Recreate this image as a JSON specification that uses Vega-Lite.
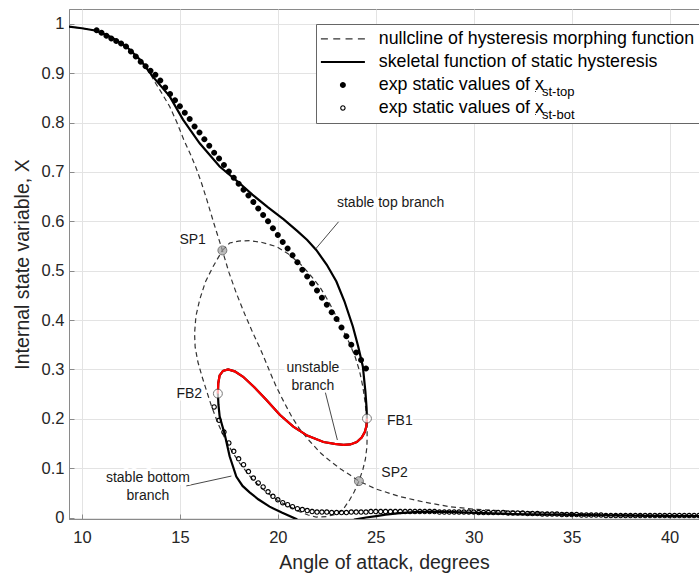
{
  "$schema": "https://vega.github.io/schema/vega-lite/v6.json",
  "width": 630,
  "height": 510,
  "autosize": {"type": "none"},
  "padding": {"left": 69, "top": 9, "right": 0, "bottom": 57},
  "config": {
    "font": "Liberation Sans",
    "view": {"stroke": "#8a8a8a", "strokeWidth": 1},
    "axis": {
      "gridColor": "#e3e3e3", "gridWidth": 1, "domainColor": "#8a8a8a", "tickColor": "#8a8a8a",
      "tickSize": -5, "labelColor": "#262626", "titleColor": "#262626",
      "labelFont": "Liberation Sans", "titleFont": "Liberation Sans",
      "labelFontSize": 16.5, "titleFontSize": 19.5, "titleFontWeight": "normal"
    }
  },
  "datasets": {
    "nullcline": [
      {"b":1,"i":1,"a":9.2,"x":0.995},{"b":1,"i":2,"a":10.0,"x":0.991},{"b":1,"i":3,"a":10.74,"x":0.986},{"b":1,"i":4,"a":11.5,"x":0.973},{"b":1,"i":5,"a":12.27,"x":0.954},{"b":1,"i":6,"a":13.0,"x":0.925},{"b":1,"i":7,"a":13.4,"x":0.905},{"b":1,"i":8,"a":13.71,"x":0.883},{"b":1,"i":9,"a":14.1,"x":0.858},{"b":1,"i":10,"a":14.48,"x":0.8325},{"b":1,"i":11,"a":14.85,"x":0.8},{"b":1,"i":12,"a":15.2,"x":0.765},{"b":1,"i":13,"a":15.55,"x":0.735},{"b":1,"i":14,"a":15.84,"x":0.707},{"b":1,"i":15,"a":16.1,"x":0.678},{"b":1,"i":16,"a":16.35,"x":0.647},{"b":1,"i":17,"a":16.75,"x":0.594},{"b":1,"i":18,"a":17.17,"x":0.541},{"b":1,"i":19,"a":17.5,"x":0.497},{"b":1,"i":20,"a":17.88,"x":0.4545},{"b":1,"i":21,"a":18.3,"x":0.413},{"b":1,"i":22,"a":18.73,"x":0.3735},{"b":1,"i":23,"a":19.1,"x":0.342},{"b":1,"i":24,"a":19.41,"x":0.313},{"b":1,"i":25,"a":19.7,"x":0.285},{"b":1,"i":26,"a":19.92,"x":0.265},{"b":1,"i":27,"a":20.3,"x":0.235},{"b":1,"i":28,"a":20.7,"x":0.205},{"b":1,"i":29,"a":21.1,"x":0.18},{"b":1,"i":30,"a":21.62,"x":0.155},{"b":1,"i":31,"a":22.2,"x":0.13},{"b":1,"i":32,"a":22.81,"x":0.11},{"b":1,"i":33,"a":23.25,"x":0.097},{"b":1,"i":34,"a":23.67,"x":0.0865},{"b":1,"i":35,"a":24.14,"x":0.0737},{"b":1,"i":36,"a":25.0,"x":0.058},{"b":1,"i":37,"a":26.22,"x":0.0425},{"b":1,"i":38,"a":27.5,"x":0.031},{"b":1,"i":39,"a":28.77,"x":0.022},{"b":1,"i":40,"a":30.0,"x":0.017},{"b":1,"i":41,"a":31.32,"x":0.014},{"b":1,"i":42,"a":33.0,"x":0.011},{"b":1,"i":43,"a":35.0,"x":0.008},{"b":1,"i":44,"a":37.0,"x":0.006},{"b":1,"i":45,"a":39.0,"x":0.005},{"b":1,"i":46,"a":41.6,"x":0.004},
      {"b":2,"i":1,"a":17.17,"x":0.541},{"b":2,"i":2,"a":17.54,"x":0.556},{"b":2,"i":3,"a":18.0,"x":0.56},{"b":2,"i":4,"a":18.56,"x":0.561},{"b":2,"i":5,"a":19.2,"x":0.557},{"b":2,"i":6,"a":19.92,"x":0.549},{"b":2,"i":7,"a":20.5,"x":0.535},{"b":2,"i":8,"a":21.11,"x":0.515},{"b":2,"i":9,"a":21.6,"x":0.494},{"b":2,"i":10,"a":22.13,"x":0.468},{"b":2,"i":11,"a":22.6,"x":0.437},{"b":2,"i":12,"a":22.99,"x":0.407},{"b":2,"i":13,"a":23.35,"x":0.378},{"b":2,"i":14,"a":23.67,"x":0.352},{"b":2,"i":15,"a":23.95,"x":0.325},{"b":2,"i":16,"a":24.17,"x":0.297},{"b":2,"i":17,"a":24.34,"x":0.265},{"b":2,"i":18,"a":24.46,"x":0.232},{"b":2,"i":19,"a":24.53,"x":0.205},{"b":2,"i":20,"a":24.56,"x":0.175},{"b":2,"i":21,"a":24.55,"x":0.144},{"b":2,"i":22,"a":24.47,"x":0.118},{"b":2,"i":23,"a":24.34,"x":0.097},{"b":2,"i":24,"a":24.14,"x":0.0737},{"b":2,"i":25,"a":23.9,"x":0.052},{"b":2,"i":26,"a":23.67,"x":0.036},{"b":2,"i":27,"a":23.32,"x":0.0156},{"b":2,"i":28,"a":23.0,"x":0.007},{"b":2,"i":29,"a":22.5,"x":0.002},{"b":2,"i":30,"a":21.96,"x":0.001},{"b":2,"i":31,"a":21.55,"x":0.005},{"b":2,"i":32,"a":21.11,"x":0.012},{"b":2,"i":33,"a":20.6,"x":0.022},{"b":2,"i":34,"a":20.09,"x":0.032},{"b":2,"i":35,"a":19.4,"x":0.052},{"b":2,"i":36,"a":18.73,"x":0.076},{"b":2,"i":37,"a":18.05,"x":0.11},{"b":2,"i":38,"a":17.6,"x":0.138},{"b":2,"i":39,"a":17.3,"x":0.16},{"b":2,"i":40,"a":16.94,"x":0.191},{"b":2,"i":41,"a":16.62,"x":0.225},{"b":2,"i":42,"a":16.4,"x":0.252},{"b":2,"i":43,"a":16.15,"x":0.283},{"b":2,"i":44,"a":15.92,"x":0.315},{"b":2,"i":45,"a":15.78,"x":0.345},{"b":2,"i":46,"a":15.75,"x":0.373},{"b":2,"i":47,"a":15.82,"x":0.408},{"b":2,"i":48,"a":16.01,"x":0.441},{"b":2,"i":49,"a":16.3,"x":0.477},{"b":2,"i":50,"a":16.69,"x":0.508},{"b":2,"i":51,"a":17.17,"x":0.541}
    ],
    "skeletal": [
      {"i":1,"a":9.2,"x":0.995},{"i":2,"a":10.0,"x":0.991},{"i":3,"a":10.74,"x":0.986},{"i":4,"a":11.5,"x":0.973},{"i":5,"a":12.27,"x":0.954},{"i":6,"a":13.0,"x":0.926},{"i":7,"a":13.62,"x":0.893},{"i":8,"a":14.48,"x":0.853},{"i":9,"a":15.16,"x":0.806},{"i":10,"a":16.01,"x":0.758},{"i":11,"a":17.03,"x":0.711},{"i":12,"a":18.05,"x":0.677},{"i":13,"a":18.7,"x":0.654},{"i":14,"a":19.5,"x":0.628},{"i":15,"a":20.3,"x":0.604},{"i":16,"a":21.0,"x":0.58},{"i":17,"a":21.5,"x":0.562},{"i":18,"a":21.96,"x":0.542},{"i":19,"a":22.5,"x":0.512},{"i":20,"a":22.99,"x":0.478},{"i":21,"a":23.4,"x":0.438},{"i":22,"a":23.83,"x":0.387},{"i":23,"a":24.1,"x":0.347},{"i":24,"a":24.34,"x":0.306},{"i":25,"a":24.47,"x":0.255},{"i":26,"a":24.53,"x":0.222},{"i":27,"a":24.55,"x":0.2005},{"i":28,"a":24.52,"x":0.185},{"i":29,"a":24.44,"x":0.173},{"i":30,"a":24.28,"x":0.162},{"i":31,"a":24.03,"x":0.153},{"i":32,"a":23.7,"x":0.148},{"i":33,"a":23.35,"x":0.147},{"i":34,"a":22.9,"x":0.149},{"i":35,"a":22.33,"x":0.153},{"i":36,"a":21.5,"x":0.166},{"i":37,"a":20.79,"x":0.184},{"i":38,"a":20.1,"x":0.208},{"i":39,"a":19.42,"x":0.238},{"i":40,"a":18.8,"x":0.264},{"i":41,"a":18.23,"x":0.285},{"i":42,"a":17.8,"x":0.296},{"i":43,"a":17.46,"x":0.3},{"i":44,"a":17.2,"x":0.297},{"i":45,"a":17.03,"x":0.288},{"i":46,"a":16.96,"x":0.272},{"i":47,"a":16.94,"x":0.251},{"i":48,"a":16.97,"x":0.228},{"i":49,"a":17.03,"x":0.205},{"i":50,"a":17.15,"x":0.188},{"i":51,"a":17.28,"x":0.17},{"i":52,"a":17.54,"x":0.124},{"i":53,"a":17.88,"x":0.083},{"i":54,"a":18.2,"x":0.064},{"i":55,"a":18.56,"x":0.051},{"i":56,"a":19.0,"x":0.037},{"i":57,"a":19.58,"x":0.022},{"i":58,"a":20.2,"x":0.01},{"i":59,"a":20.94,"x":-0.003},{"i":60,"a":21.5,"x":-0.02},{"i":61,"a":23.4,"x":-0.02},{"i":62,"a":23.92,"x":-0.004},{"i":63,"a":24.5,"x":0.0},{"i":64,"a":25.03,"x":0.003},{"i":65,"a":25.5,"x":0.006},{"i":66,"a":26.22,"x":0.009},{"i":67,"a":27.0,"x":0.011},{"i":68,"a":27.92,"x":0.012},{"i":69,"a":29.0,"x":0.011},{"i":70,"a":30.5,"x":0.009},{"i":71,"a":32.0,"x":0.007},{"i":72,"a":34.0,"x":0.006},{"i":73,"a":36.0,"x":0.005},{"i":74,"a":38.0,"x":0.004},{"i":75,"a":40.0,"x":0.003},{"i":76,"a":41.6,"x":0.003}
    ],
    "unstable": [
      {"i":27,"a":24.55,"x":0.2005},{"i":28,"a":24.52,"x":0.185},{"i":29,"a":24.44,"x":0.173},{"i":30,"a":24.28,"x":0.162},{"i":31,"a":24.03,"x":0.153},{"i":32,"a":23.7,"x":0.148},{"i":33,"a":23.35,"x":0.147},{"i":34,"a":22.9,"x":0.149},{"i":35,"a":22.33,"x":0.153},{"i":36,"a":21.5,"x":0.166},{"i":37,"a":20.79,"x":0.184},{"i":38,"a":20.1,"x":0.208},{"i":39,"a":19.42,"x":0.238},{"i":40,"a":18.8,"x":0.264},{"i":41,"a":18.23,"x":0.285},{"i":42,"a":17.8,"x":0.296},{"i":43,"a":17.46,"x":0.3},{"i":44,"a":17.2,"x":0.297},{"i":45,"a":17.03,"x":0.288},{"i":46,"a":16.96,"x":0.272},{"i":47,"a":16.94,"x":0.251}
    ],
    "exp": [
      {"s":"top","a":10.75,"x":0.987},{"s":"top","a":11.0,"x":0.982},{"s":"top","a":11.25,"x":0.976},{"s":"top","a":11.5,"x":0.97},{"s":"top","a":11.75,"x":0.965},{"s":"top","a":12.0,"x":0.96},{"s":"top","a":12.25,"x":0.954},{"s":"top","a":12.5,"x":0.944},{"s":"top","a":12.75,"x":0.934},{"s":"top","a":13.0,"x":0.923},{"s":"top","a":13.25,"x":0.914},{"s":"top","a":13.5,"x":0.905},{"s":"top","a":13.75,"x":0.897},{"s":"top","a":14.0,"x":0.885},{"s":"top","a":14.25,"x":0.871},{"s":"top","a":14.5,"x":0.858},{"s":"top","a":14.75,"x":0.845},{"s":"top","a":15.0,"x":0.833},{"s":"top","a":15.25,"x":0.82},{"s":"top","a":15.5,"x":0.807},{"s":"top","a":15.75,"x":0.792},{"s":"top","a":16.0,"x":0.78},{"s":"top","a":16.25,"x":0.766},{"s":"top","a":16.5,"x":0.753},{"s":"top","a":16.75,"x":0.739},{"s":"top","a":17.0,"x":0.727},{"s":"top","a":17.25,"x":0.714},{"s":"top","a":17.5,"x":0.701},{"s":"top","a":17.75,"x":0.688},{"s":"top","a":18.0,"x":0.676},{"s":"top","a":18.25,"x":0.664},{"s":"top","a":18.5,"x":0.652},{"s":"top","a":18.75,"x":0.639},{"s":"top","a":19.0,"x":0.626},{"s":"top","a":19.25,"x":0.613},{"s":"top","a":19.5,"x":0.6},{"s":"top","a":19.75,"x":0.586},{"s":"top","a":20.0,"x":0.572},{"s":"top","a":20.25,"x":0.558},{"s":"top","a":20.5,"x":0.545},{"s":"top","a":20.75,"x":0.531},{"s":"top","a":21.0,"x":0.517},{"s":"top","a":21.25,"x":0.502},{"s":"top","a":21.5,"x":0.488},{"s":"top","a":21.75,"x":0.474},{"s":"top","a":22.0,"x":0.46},{"s":"top","a":22.25,"x":0.445},{"s":"top","a":22.5,"x":0.431},{"s":"top","a":22.75,"x":0.416},{"s":"top","a":23.0,"x":0.402},{"s":"top","a":23.25,"x":0.385},{"s":"top","a":23.5,"x":0.367},{"s":"top","a":23.75,"x":0.35},{"s":"top","a":24.0,"x":0.334},{"s":"top","a":24.25,"x":0.319},{"s":"top","a":24.5,"x":0.302},
      {"s":"bot","a":16.75,"x":0.224},{"s":"bot","a":17.0,"x":0.197},{"s":"bot","a":17.25,"x":0.173},{"s":"bot","a":17.5,"x":0.151},{"s":"bot","a":17.75,"x":0.134},{"s":"bot","a":18.0,"x":0.119},{"s":"bot","a":18.25,"x":0.107},{"s":"bot","a":18.5,"x":0.093},{"s":"bot","a":18.75,"x":0.08},{"s":"bot","a":19.0,"x":0.07},{"s":"bot","a":19.25,"x":0.062},{"s":"bot","a":19.5,"x":0.052},{"s":"bot","a":19.75,"x":0.043},{"s":"bot","a":20.0,"x":0.036},{"s":"bot","a":20.25,"x":0.03},{"s":"bot","a":20.5,"x":0.026},{"s":"bot","a":20.75,"x":0.022},{"s":"bot","a":21.0,"x":0.018},{"s":"bot","a":21.25,"x":0.016},{"s":"bot","a":21.5,"x":0.014},{"s":"bot","a":21.75,"x":0.012},{"s":"bot","a":22.0,"x":0.011},{"s":"bot","a":22.25,"x":0.011},{"s":"bot","a":22.5,"x":0.011},{"s":"bot","a":22.75,"x":0.01},{"s":"bot","a":23.0,"x":0.01},{"s":"bot","a":23.25,"x":0.01},{"s":"bot","a":23.5,"x":0.01},{"s":"bot","a":23.75,"x":0.011},{"s":"bot","a":24.0,"x":0.011},{"s":"bot","a":24.25,"x":0.011},{"s":"bot","a":24.5,"x":0.011},{"s":"bot","a":24.75,"x":0.012},{"s":"bot","a":25.0,"x":0.012},{"s":"bot","a":25.25,"x":0.012},{"s":"bot","a":25.5,"x":0.012},{"s":"bot","a":25.75,"x":0.012},{"s":"bot","a":26.0,"x":0.012},{"s":"bot","a":26.25,"x":0.012},{"s":"bot","a":26.5,"x":0.012},{"s":"bot","a":26.75,"x":0.012},{"s":"bot","a":27.0,"x":0.012},{"s":"bot","a":27.25,"x":0.012},{"s":"bot","a":27.5,"x":0.012},{"s":"bot","a":27.75,"x":0.012},{"s":"bot","a":28.0,"x":0.012},{"s":"bot","a":28.25,"x":0.011},{"s":"bot","a":28.5,"x":0.011},{"s":"bot","a":28.75,"x":0.011},{"s":"bot","a":29.0,"x":0.011},{"s":"bot","a":29.25,"x":0.011},{"s":"bot","a":29.5,"x":0.011},{"s":"bot","a":29.75,"x":0.011},{"s":"bot","a":30.0,"x":0.011},{"s":"bot","a":30.25,"x":0.01},{"s":"bot","a":30.5,"x":0.01},{"s":"bot","a":30.75,"x":0.01},{"s":"bot","a":31.0,"x":0.01},{"s":"bot","a":31.25,"x":0.01},{"s":"bot","a":31.5,"x":0.01},{"s":"bot","a":31.75,"x":0.009},{"s":"bot","a":32.0,"x":0.009},{"s":"bot","a":32.25,"x":0.009},{"s":"bot","a":32.5,"x":0.009},{"s":"bot","a":32.75,"x":0.008},{"s":"bot","a":33.0,"x":0.008},{"s":"bot","a":33.25,"x":0.008},{"s":"bot","a":33.5,"x":0.007},{"s":"bot","a":33.75,"x":0.007},{"s":"bot","a":34.0,"x":0.007},{"s":"bot","a":34.25,"x":0.007},{"s":"bot","a":34.5,"x":0.006},{"s":"bot","a":34.75,"x":0.006},{"s":"bot","a":35.0,"x":0.006},{"s":"bot","a":35.25,"x":0.006},{"s":"bot","a":35.5,"x":0.005},{"s":"bot","a":35.75,"x":0.005},{"s":"bot","a":36.0,"x":0.005},{"s":"bot","a":36.25,"x":0.005},{"s":"bot","a":36.5,"x":0.005},{"s":"bot","a":36.75,"x":0.004},{"s":"bot","a":37.0,"x":0.004},{"s":"bot","a":37.25,"x":0.004},{"s":"bot","a":37.5,"x":0.004},{"s":"bot","a":37.75,"x":0.004},{"s":"bot","a":38.0,"x":0.004},{"s":"bot","a":38.25,"x":0.004},{"s":"bot","a":38.5,"x":0.004},{"s":"bot","a":38.75,"x":0.004},{"s":"bot","a":39.0,"x":0.004},{"s":"bot","a":39.25,"x":0.004},{"s":"bot","a":39.5,"x":0.004},{"s":"bot","a":39.75,"x":0.004},{"s":"bot","a":40.0,"x":0.004},{"s":"bot","a":40.25,"x":0.004},{"s":"bot","a":40.5,"x":0.004},{"s":"bot","a":40.75,"x":0.004},{"s":"bot","a":41.0,"x":0.004},{"s":"bot","a":41.25,"x":0.004},{"s":"bot","a":41.5,"x":0.004}
    ],
    "sp": [{"name":"SP1","a":17.17,"x":0.541},{"name":"SP2","a":24.14,"x":0.0737}],
    "fb": [{"name":"FB1","a":24.55,"x":0.2005},{"name":"FB2","a":16.94,"x":0.251}],
    "leaders": [
      {"a":23.1,"x":0.599,"a2":21.93,"x2":0.544},
      {"a":22.39,"x":0.259,"a2":23.04,"x2":0.157},
      {"a":15.33,"x":0.064,"a2":17.63,"x2":0.084}
    ],
    "labels": [
      {"t":"SP1","a":15.65,"x":0.5625},
      {"t":"FB2","a":15.48,"x":0.2506},
      {"t":"FB1","a":26.23,"x":0.1945},
      {"t":"SP2","a":25.96,"x":0.09},
      {"t":"stable top branch","a":25.76,"x":0.637},
      {"t":"unstable\nbranch","a":21.79,"x":0.3026},
      {"t":"stable bottom\nbranch","a":13.37,"x":0.0798}
    ]
  },
  "encoding": {
    "x": {
      "field": "a", "type": "quantitative",
      "scale": {"domain": [9.34, 41.5], "nice": false, "zero": false},
      "axis": {"title": "Angle of attack, degrees", "values": [10, 15, 20, 25, 30, 35, 40], "format": "d", "grid": true, "labelPadding": 15, "titlePadding": 8}
    },
    "y": {
      "field": "x", "type": "quantitative",
      "scale": {"domain": [-0.003, 1.03], "nice": false, "zero": false},
      "axis": {"title": "Internal state variable, X", "values": [0, 0.1, 0.2, 0.3, 0.4, 0.5, 0.6, 0.7, 0.8, 0.9, 1], "format": "~g", "grid": true, "labelPadding": 10, "titlePadding": 9}
    }
  },
  "layer": [
    {
      "data": {"name": "nullcline"},
      "mark": {"type": "line", "color": "#333333", "strokeWidth": 1.2, "strokeDash": [5, 3.5], "clip": true},
      "encoding": {"detail": {"field": "b"}, "order": {"field": "i", "type": "quantitative"}}
    },
    {
      "data": {"name": "skeletal"},
      "mark": {"type": "line", "color": "#000000", "strokeWidth": 2.2, "clip": true},
      "encoding": {"order": {"field": "i", "type": "quantitative"}}
    },
    {
      "data": {"name": "unstable"},
      "mark": {"type": "line", "color": "#ff0000", "strokeWidth": 2.2, "clip": true},
      "encoding": {"order": {"field": "i", "type": "quantitative"}}
    },
    {
      "data": {"name": "leaders"},
      "mark": {"type": "rule", "color": "#333333", "strokeWidth": 0.9},
      "encoding": {"x2": {"field": "a2"}, "y2": {"field": "x2"}}
    },
    {
      "data": {"name": "exp"},
      "mark": {"type": "point", "filled": true, "size": 100, "strokeWidth": 0, "clip": true},
      "encoding": {
        "shape": {
          "field": "s", "type": "nominal",
          "scale": {"domain": ["null", "skel", "top", "bot"], "range": [
            "M-4.4,-0.12H-3V0.12H-4.4ZM-1.93,-0.12H-0.53V0.12H-1.93ZM0.53,-0.12H1.93V0.12H0.53ZM3,-0.12H4.4V0.12H3Z",
            "M-4.4,-0.2H4.4V0.2H-4.4Z",
            "M-0.6,0A0.6,0.6 0 1,0 0.6,0A0.6,0.6 0 1,0 -0.6,0Z",
            "M-0.55,0A0.55,0.55 0 1,0 0.55,0A0.55,0.55 0 1,0 -0.55,0ZM-0.32,0A0.32,0.32 0 1,1 0.32,0A0.32,0.32 0 1,1 -0.32,0Z"
          ]},
          "legend": {
            "orient": "none", "legendX": 247, "legendY": 15, "title": null,
            "labelExpr": "datum.label == 'null' ? 'nullcline of hysteresis morphing function' : datum.label == 'skel' ? 'skeletal function of static hysteresis' : 'exp static values of x'",
            "labelFont": "Liberation Sans", "labelFontSize": 17.8, "labelColor": "#000000", "labelLimit": 0,
            "symbolStrokeWidth": 0, "symbolOpacity": 1, "symbolSize": 100, "symbolOffset": 12, "labelOffset": 27,
            "fillColor": "#ffffff", "strokeColor": "#666666", "padding": 6, "rowPadding": 4,
            "encode": {"symbols": {"update": {"opacity": {"value": 1}}}}
          }
        },
        "fill": {
          "field": "s", "type": "nominal",
          "scale": {"domain": ["null", "skel", "top", "bot"], "range": ["#333333", "#000000", "#000000", "#000000"]}
        },
        "opacity": {
          "field": "s", "type": "ordinal",
          "scale": {"domain": ["top", "bot"], "range": [1, 1]},
          "legend": {
            "orient": "none", "legendX": 460, "legendY": 76, "title": null,
            "labelExpr": "datum.label == 'top' ? 'st-top' : 'st-bot'",
            "labelFont": "Liberation Sans", "labelFontSize": 13, "labelColor": "#000000", "labelLimit": 0,
            "symbolOpacity": 0, "symbolSize": 1, "symbolStrokeWidth": 0, "labelOffset": 0, "padding": 0, "rowPadding": 9
          }
        }
      }
    },
    {
      "data": {"name": "sp"},
      "mark": {"type": "point", "shape": "circle", "filled": true, "size": 80, "fill": "#a0a0a0", "stroke": "#404040", "strokeWidth": 1}
    },
    {
      "data": {"name": "fb"},
      "mark": {"type": "point", "shape": "circle", "filled": true, "size": 80, "fill": "#ffffff", "stroke": "#404040", "strokeWidth": 1}
    },
    {
      "data": {"name": "labels"},
      "mark": {"type": "text", "font": "Liberation Sans", "fontSize": 14, "align": "center", "baseline": "middle", "lineBreak": "\n", "lineHeight": 18, "fill": "#ffffff", "stroke": "#ffffff", "strokeWidth": 6, "strokeJoin": "round"},
      "encoding": {"text": {"field": "t"}}
    },
    {
      "data": {"name": "labels"},
      "mark": {"type": "text", "font": "Liberation Sans", "fontSize": 14, "align": "center", "baseline": "middle", "lineBreak": "\n", "lineHeight": 18, "color": "#1a1a1a"},
      "encoding": {"text": {"field": "t"}}
    }
  ]
}
